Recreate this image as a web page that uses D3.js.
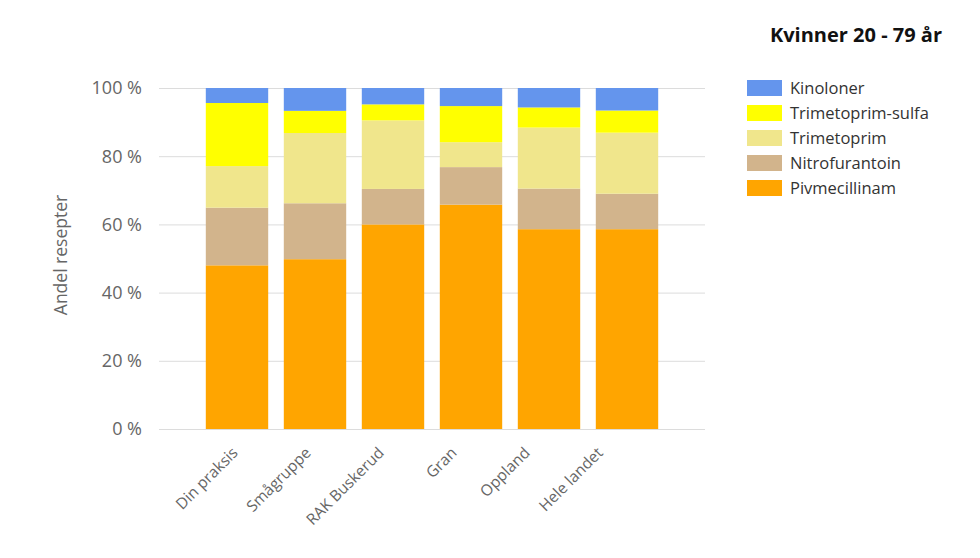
<!DOCTYPE html>
<html>
<head>
<meta charset="utf-8">
<script src="https://cdn.jsdelivr.net/npm/d3@7"></script>
<style>
  body { margin: 0; background: #fff; }
  text { font-family: "Open Sans", sans-serif; }
</style>
</head>
<body>
<svg id="chart" width="980" height="558"></svg>
<script>
// categories along the x axis
const categories = ["Din praksis", "Smågruppe", "RAK Buskerud", "Gran", "Oppland", "Hele landet"];

// series, bottom to top (percent of prescriptions)
const pivmecillinam = [48.0, 49.8, 60.0, 65.8, 58.6, 58.6];
const nitrofurantoin = [16.9, 16.4, 10.4, 11.0, 11.9, 10.4];
const trimetoprim = [12.2, 20.6, 20.1, 7.3, 17.9, 17.9];
const trimetoprimSulfa = [18.5, 6.5, 4.7, 10.6, 5.9, 6.5];
const kinoloner = [4.4, 6.7, 4.8, 5.3, 5.7, 6.6];

const yTicks = [0, 20, 40, 60, 80, 100];

const series = [
    { name: "Pivmecillinam", values: pivmecillinam, color: "#FFA500" },
    { name: "Nitrofurantoin", values: nitrofurantoin, color: "#D2B48C" },
    { name: "Trimetoprim", values: trimetoprim, color: "#F0E68C" },
    { name: "Trimetoprim-sulfa", values: trimetoprimSulfa, color: "#FFFF00" },
    { name: "Kinoloner", values: kinoloner, color: "#6495ED" }
];

const svg = d3.select("#chart");

const plot = { left: 159, right: 705, top: 88, bottom: 429 };

const x = d3.scaleBand()
    .domain(categories)
    .range([plot.left, plot.right])
    .paddingInner(0.2)
    .paddingOuter(0.6);

// the category labels sit on a slightly tighter spacing than the bars
const xLabel = d3.scalePoint()
    .domain(categories)
    .range([235, 600]);

const y = d3.scaleLinear()
    .domain([0, 100])
    .range([plot.bottom, plot.top]);

// table for the stack
const table = categories.map((c, i) => {
    const row = { category: c };
    series.forEach(s => row[s.name] = s.values[i]);
    return row;
});

const stack = d3.stack().keys(series.map(s => s.name));
const stacked = stack(table);

// gridlines
svg.append("g")
    .selectAll("line")
    .data(yTicks)
    .enter().append("line")
    .attr("x1", plot.left)
    .attr("x2", plot.right)
    .attr("y1", d => y(d) + 0.5)
    .attr("y2", d => y(d) + 0.5)
    .style("stroke", "#dcdcdc")
    .style("stroke-width", 1);

// y tick labels
svg.append("g")
    .selectAll("text")
    .data(yTicks)
    .enter().append("text")
    .attr("x", 142)
    .attr("y", d => y(d))
    .attr("dy", "0.35em")
    .attr("text-anchor", "end")
    .style("font-size", "18px")
    .style("fill", "#666")
    .text(d => d + " %");

// y axis title
svg.append("text")
    .attr("transform", "translate(67,255) rotate(-90)")
    .attr("text-anchor", "middle")
    .style("font-size", "17.5px")
    .style("fill", "#666")
    .text("Andel resepter");

// bars
svg.append("g")
    .selectAll("g")
    .data(stacked)
    .enter().append("g")
    .style("fill", (d, i) => series[i].color)
    .selectAll("rect")
    .data(d => d)
    .enter().append("rect")
    .attr("x", d => x(d.data.category))
    .attr("width", x.bandwidth())
    .attr("y", d => y(d[1]))
    .attr("height", d => y(d[0]) - y(d[1]));

// x labels
svg.append("g")
    .selectAll("text")
    .data(categories)
    .enter().append("text")
    .attr("transform", d => `translate(${xLabel(d)},${plot.bottom + 21}) rotate(-45)`)
    .attr("text-anchor", "end")
    .attr("dy", "0.35em")
    .style("font-size", "15.5px")
    .style("fill", "#666")
    .text(d => d);

// title
svg.append("text")
    .attr("x", 942)
    .attr("y", 42)
    .attr("text-anchor", "end")
    .style("font-size", "20px")
    .style("font-weight", "bold")
    .style("fill", "#111")
    .text("Kvinner 20 - 79 år");

// legend, top to bottom
const legendItems = series.slice().reverse();
const legend = svg.append("g")
    .selectAll("g")
    .data(legendItems)
    .enter().append("g")
    .attr("transform", (d, i) => `translate(747,${80 + i * 25})`);

legend.append("rect")
    .attr("width", 35)
    .attr("height", 16)
    .style("fill", d => d.color);

legend.append("text")
    .attr("x", 43)
    .attr("y", 8)
    .attr("dy", "0.35em")
    .style("font-size", "16.5px")
    .style("fill", "#333")
    .text(d => d.name);
</script>
</body>
</html>
